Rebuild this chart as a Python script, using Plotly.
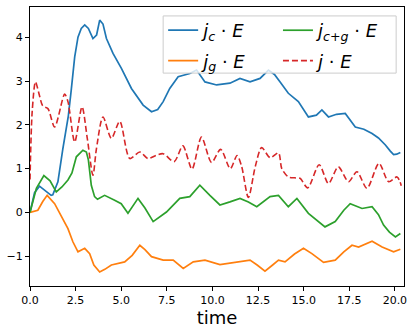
import plotly.graph_objects as go

# j_c . E  (blue)
t_c = [0, 0.25, 0.52, 0.8, 1.16, 1.25, 1.53, 1.8, 2.1, 2.26, 2.45, 2.63, 2.81, 3.0, 3.2, 3.45, 3.65,
       3.82, 4.0, 4.19, 4.55, 5.01, 5.56, 6.2, 6.66, 7.0, 7.3, 7.66, 8.12, 8.76, 9.13, 9.59, 10.23,
       10.96, 11.51, 12.06, 12.61, 13.07, 13.4, 13.71, 14.16, 14.71, 15.26, 15.7, 16.0, 16.36, 16.8,
       17.28, 17.83, 18.3, 18.75, 19.1, 19.48, 19.75, 19.93, 20.1, 20.3]
jc = [0, 0.45, 0.6, 0.5, 0.39, 0.4, 0.7, 1.45, 2.2, 2.79, 3.55, 4.0, 4.2, 4.28, 4.2, 3.97, 4.05,
      4.39, 4.3, 3.97, 3.63, 3.29, 2.83, 2.45, 2.30, 2.35, 2.53, 2.83, 3.10, 3.17, 3.25, 2.98, 2.91,
      2.95, 3.06, 2.98, 3.06, 3.25, 3.15, 2.98, 2.72, 2.53, 2.18, 2.22, 2.34, 2.18, 2.24,
      2.26, 1.95, 1.9, 1.80, 1.7, 1.54, 1.4, 1.32, 1.33, 1.37]

# j_g . E  (orange)
t_g = [0, 0.43, 0.7, 0.94, 1.35, 1.7, 2.08, 2.35, 2.63, 3.0, 3.27, 3.5, 3.82, 4.1, 4.46, 5.19,
       5.6, 6.02, 6.3, 6.66, 7.3, 7.85, 8.4, 8.95, 9.59, 10.41, 11.33, 12.06, 12.45, 12.88, 13.3,
       13.62, 13.98, 14.5, 14.99, 15.45, 16.09, 16.73, 17.2, 17.65, 18.01, 18.4, 18.75, 19.3,
       19.93, 20.3]
jg = [0, 0.05, 0.25, 0.39, 0.2, -0.08, -0.37, -0.67, -0.9, -0.82, -0.94, -1.2, -1.36, -1.3, -1.2,
      -1.13, -0.98, -0.75, -0.85, -1.01, -1.09, -1.09, -1.28, -1.13, -1.09, -1.19, -1.13, -1.09,
      -1.2, -1.34, -1.2, -1.09, -1.13, -0.95, -0.82, -0.94, -1.14, -1.09, -0.9, -0.75, -0.79,
      -0.72, -0.66, -0.79, -0.9, -0.84]

# j_{c+g} . E  (green)
t_cg = [0, 0.35, 0.76, 1.1, 1.44, 1.75, 2.08, 2.3, 2.54, 2.75, 2.9, 3.09, 3.2, 3.36, 3.54, 3.7,
        4.09, 4.64, 5.0, 5.37, 5.92, 6.3, 6.75, 7.48, 8.21, 8.76, 9.31, 9.86, 10.41, 10.96, 11.51,
        11.97, 12.43, 13.16, 13.62, 14.16, 14.63, 15.26, 15.7, 16.17, 16.73, 17.2, 17.55, 18.2,
        18.75, 19.1, 19.38, 19.7, 20.03, 20.3]
jcg = [0, 0.55, 0.84, 0.72, 0.47, 0.58, 0.74, 0.9, 1.27, 1.35, 1.42, 1.38, 1.2, 0.62, 0.36, 0.3,
       0.39, 0.28, 0.2, -0.02, 0.32, 0.1, -0.21, 0.01, 0.32, 0.36, 0.62, 0.39, 0.17, 0.24, 0.32,
       0.24, 0.13, 0.36, 0.39, 0.13, 0.32, -0.02, -0.18, -0.33, -0.21, 0.05, 0.20, 0.09,
       0.13, -0.05, -0.29, -0.45, -0.56, -0.48]

# j . E  (red dashed)
t_j = [0, 0.12, 0.3, 0.5, 0.7, 0.98, 1.35, 1.9, 2.08, 2.45, 2.85, 3.14, 3.45, 3.64, 4.0, 4.46,
       4.92, 5.47, 6.02, 6.47, 6.9, 7.3, 7.9, 8.38, 8.88, 9.4, 9.95, 10.45, 10.98, 11.35, 11.6,
       11.97, 12.35, 12.7, 13.16, 13.62, 13.8, 14.16, 14.5, 14.8, 15.22, 15.85, 16.36, 16.9,
       17.46, 17.92, 18.47, 19.13, 19.66, 20.12, 20.35]
jj = [0.75, 2.3, 2.98, 2.7, 2.43, 2.37, 1.95, 2.7, 2.53, 1.61, 2.41, 1.69, 0.85, 1.45, 2.18, 1.69,
      2.08, 1.23, 1.38, 1.23, 1.3, 1.34, 1.16, 1.52, 0.99, 1.72, 1.14, 1.44, 1.0, 1.3, 1.05,
      0.34, 1.05, 1.48, 1.25, 1.36, 1.0, 0.81, 0.79, 0.78, 0.56, 1.09, 0.66, 1.04,
      0.7, 0.93, 0.55, 1.12, 0.7, 0.81, 0.61]

x_ticks = [0, 2.5, 5, 7.5, 10, 12.5, 15, 17.5, 20]
y_ticks = [-1, 0, 1, 2, 3, 4]

fig = go.Figure()
fig.add_trace(go.Scatter(x=t_c, y=jc, mode='lines', name='<i>j</i><sub><i>c</i></sub> · <i>E</i>',
                         line=dict(color='#1f77b4', width=1.7), legend='legend', legendgroup='a'))
fig.add_trace(go.Scatter(x=t_g, y=jg, mode='lines', name='<i>j</i><sub><i>g</i></sub> · <i>E</i>',
                         line=dict(color='#ff7f0e', width=1.7), legend='legend', legendgroup='b'))
fig.add_trace(go.Scatter(x=t_cg, y=jcg, mode='lines', name='<i>j</i><sub><i>c+g</i></sub> · <i>E</i>',
                         line=dict(color='#2ca02c', width=1.7), legend='legend2', legendgroup='c'))
fig.add_trace(go.Scatter(x=t_j, y=jj, mode='lines', name='<i>j</i> · <i>E</i>',
                         line=dict(color='#d62728', width=1.6, dash='6px,3px', shape='spline', smoothing=0.8),
                         legend='legend2', legendgroup='d'))

axis_common = dict(showline=True, linecolor='black', linewidth=1, mirror=True, showgrid=False,
                   zeroline=False, ticks='outside', ticklen=4, tickwidth=1, tickcolor='black',
                   tickfont=dict(family='DejaVu Sans', size=11, color='black'))

legend_common = dict(orientation='v', y=0.982, yanchor='top', xanchor='left',
                     bgcolor='rgba(0,0,0,0)', borderwidth=0, tracegroupgap=4,
                     font=dict(family='DejaVu Sans', size=18, color='black'))

fig.update_layout(
    width=415, height=332,
    margin=dict(l=30, r=11, t=7, b=46),
    plot_bgcolor='white', paper_bgcolor='white',
    xaxis=dict(range=[0, 20.5], tickvals=x_ticks, tickformat='.1f',
               title=dict(text='time', font=dict(family='DejaVu Sans', size=18, color='black'), standoff=4),
               **axis_common),
    yaxis=dict(range=[-1.68, 4.69], tickvals=y_ticks, **axis_common),
    legend=dict(x=0.356, **legend_common),
    legend2=dict(x=0.663, **legend_common),
    showlegend=True,
)

# legend frame (matplotlib-style box behind both legend columns)
fig.add_shape(type='rect', xref='paper', yref='paper', x0=0.356, x1=0.979, y0=0.763, y1=0.968,
              line=dict(color='#cccccc', width=1), fillcolor='rgba(255,255,255,0.8)', layer='above')

fig.write_html("out.html", config={'displayModeBar': False},
               post_script="document.body.style.margin='0';")
